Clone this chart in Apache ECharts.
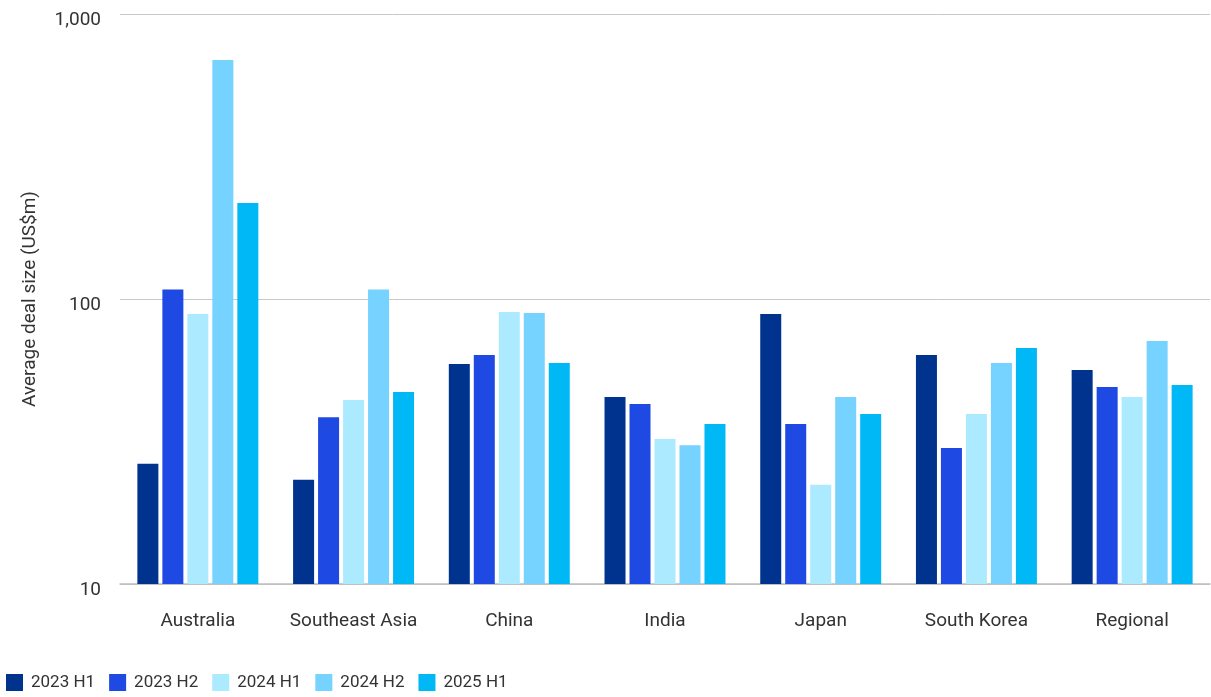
<!DOCTYPE html>
<html>
<head>
<meta charset="utf-8">
<title>Average deal size by market</title>
<script src="https://cdn.jsdelivr.net/npm/echarts@6/dist/echarts.min.js"></script>
<style>
  html, body { margin: 0; padding: 0; background: #fff; }
  #chart { width: 1211px; height: 697px; }
</style>
</head>
<body>
<div id="chart"></div>
<script>
// Markets along the x axis
const categories = ['Australia', 'Southeast Asia', 'China', 'India', 'Japan', 'South Korea', 'Regional'];

// Average deal size (US$m) per half-year
const h1_2023 = [26.4, 23.2, 59.1, 45.3, 88.6, 63.6, 56.3];
const h2_2023 = [108, 38.5, 63.6, 42.8, 36.4, 30.0, 49.1];
const h1_2024 = [88.6, 44.2, 90, 32.3, 22.3, 39.5, 45.3];
const h2_2024 = [690, 108, 89.3, 30.7, 45.3, 59.6, 71.2];
const h1_2025 = [217, 47.2, 59.6, 36.4, 39.5, 67.3, 49.9];

const seriesNames = ['2023 H1', '2023 H2', '2024 H1', '2024 H2', '2025 H1'];
const seriesValues = [h1_2023, h2_2023, h1_2024, h2_2024, h1_2025];
const palette = ['#00338D', '#1E49E2', '#ACEAFF', '#76D2FF', '#00B8F5'];

const FONT = 'Roboto, "Liberation Sans", sans-serif';
const TEXT = '#333333';

const chart = echarts.init(document.getElementById('chart'), null, { renderer: 'canvas' });

chart.setOption({
  animation: false,
  color: palette,
  textStyle: { fontFamily: FONT },
  grid: { left: 120, right: 1, top: 14, bottom: 113, containLabel: false },
  legend: {
    data: seriesNames,
    left: 6,
    top: 674,
    padding: 0,
    itemWidth: 17,
    itemHeight: 17,
    itemGap: 14,
    icon: 'rect',
    textStyle: { fontSize: 17, color: TEXT, fontFamily: FONT, padding: [0, 0, 0, 3] }
  },
  xAxis: {
    type: 'category',
    data: categories,
    axisTick: { show: false },
    axisLine: { lineStyle: { color: '#bdbdbd', width: 1.5 } },
    axisLabel: { interval: 0, fontSize: 19, color: TEXT, margin: 28, fontFamily: FONT }
  },
  yAxis: {
    type: 'log',
    logBase: 10,
    min: 10,
    max: 1000,
    name: 'Average deal size (US$m)',
    nameLocation: 'middle',
    nameGap: 80,
    nameRotate: 90,
    nameTextStyle: { fontSize: 19, color: TEXT, fontFamily: FONT },
    axisLine: { show: false },
    axisTick: { show: false },
    splitLine: { lineStyle: { color: '#c8c8c8', width: 1 } },
    axisLabel: {
      fontSize: 19,
      color: TEXT,
      margin: 19,
      fontFamily: FONT,
      verticalAlign: 'top',
      lineHeight: 13,
      formatter: v => Number(v).toLocaleString('en-US')
    }
  },
  series: seriesNames.map((name, i) => ({
    name,
    type: 'bar',
    data: seriesValues[i],
    barWidth: 21,
    barGap: '19%',
    barCategoryGap: '22%'
  }))
});
</script>
</body>
</html>
